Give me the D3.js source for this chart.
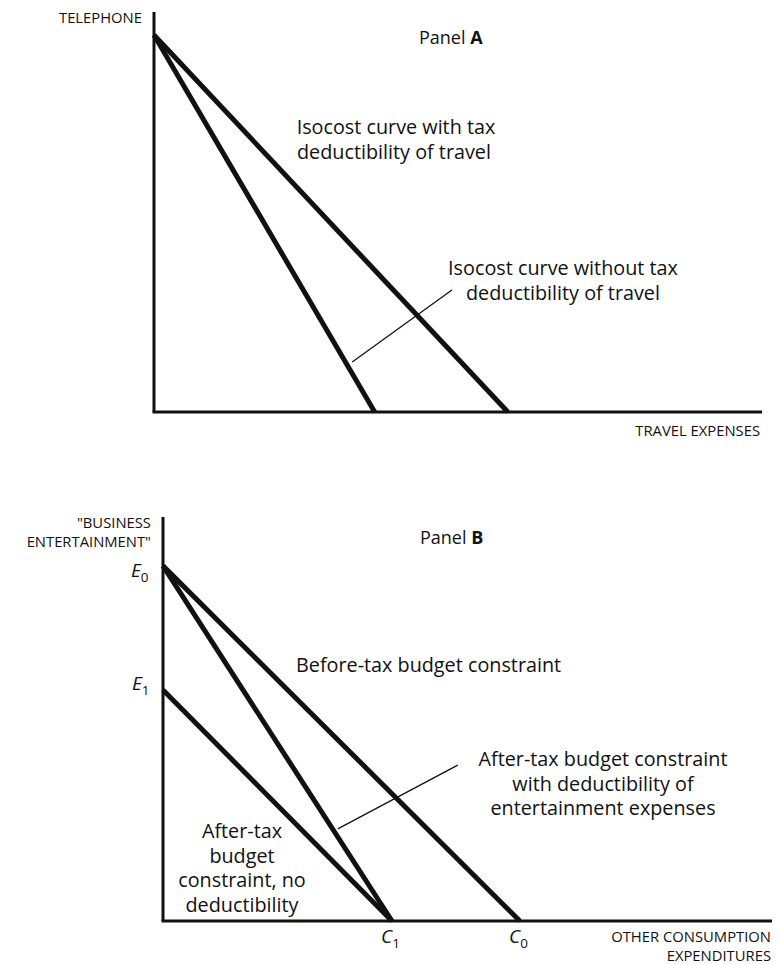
<!DOCTYPE html>
<html><head><meta charset="utf-8">
<script src="https://cdn.jsdelivr.net/npm/d3@7"></script>
<style>body{margin:0;background:#fff}svg{display:block}text{font-family:"Open Sans",Lato,sans-serif;fill:#111}</style>
</head><body>
<script>
// Panel A data (abstract units)
const panelA_telephoneIntercept = 94.25;
const panelA_travelIntercepts = [36.3, 58.2]; // without tax deductibility, with tax deductibility
// Panel B data
const panelB_entIntercepts = [87.9, 57.2];   // E0, E1
const panelB_consIntercepts = [37.6, 58.6];  // C1, C0
const panelB_lines = [
  {name:"Before-tax budget constraint", e:0, c:1},
  {name:"After-tax budget constraint with deductibility of entertainment expenses", e:0, c:0},
  {name:"After-tax budget constraint, no deductibility", e:1, c:0}
];

const W=780,H=965;
const svg=d3.select("body").append("svg").attr("width",W).attr("height",H);
const BIG=19.8, SMALL=14.8, PANEL=18, LH=24.5;

// ---------- Panel A ----------
const xA=d3.scaleLinear().domain([0,100]).range([154,762]);
const yA=d3.scaleLinear().domain([0,100]).range([412,12]);
const gA=svg.append("g");
gA.append("line").attr("x1",xA(0)).attr("x2",xA(0)).attr("y1",yA(100)).attr("y2",yA(0)).attr("stroke","#111").attr("stroke-width",3);
gA.append("line").attr("x1",xA(0)-1.5).attr("x2",xA(100)).attr("y1",yA(0)).attr("y2",yA(0)).attr("stroke","#111").attr("stroke-width",3);
panelA_travelIntercepts.forEach(t=>{
  gA.append("line").attr("x1",xA(0)).attr("y1",yA(panelA_telephoneIntercept))
    .attr("x2",xA(t)).attr("y2",yA(0)).attr("stroke","#111").attr("stroke-width",5);
});
gA.append("line").attr("x1",xA(32.6)).attr("y1",yA(12.5)).attr("x2",xA(49)).attr("y2",yA(30.5)).attr("stroke","#111").attr("stroke-width",1.3);
gA.append("text").attr("x",142).attr("y",22.5).attr("text-anchor","end").attr("font-size",SMALL).text("TELEPHONE");
const pA=gA.append("text").attr("x",419).attr("y",44).attr("font-size",PANEL);
pA.append("tspan").text("Panel ");
pA.append("tspan").attr("font-weight","bold").text("A");
const tA1=gA.append("text").attr("text-anchor","middle").attr("font-size",BIG);
tA1.append("tspan").attr("x",396).attr("y",134).text("Isocost curve with tax");
tA1.append("tspan").attr("x",394).attr("y",134+LH).text("deductibility of travel");
const tA2=gA.append("text").attr("text-anchor","middle").attr("font-size",BIG);
tA2.append("tspan").attr("x",563).attr("y",275).text("Isocost curve without tax");
tA2.append("tspan").attr("x",563).attr("y",275+LH).text("deductibility of travel");
gA.append("text").attr("x",760).attr("y",436).attr("text-anchor","end").attr("font-size",SMALL).text("TRAVEL EXPENSES");

// ---------- Panel B ----------
const xB=d3.scaleLinear().domain([0,100]).range([163,772]);
const yB=d3.scaleLinear().domain([0,100]).range([921,517]);
const gB=svg.append("g");
gB.append("line").attr("x1",xB(0)).attr("x2",xB(0)).attr("y1",yB(100)).attr("y2",yB(0)).attr("stroke","#111").attr("stroke-width",3);
gB.append("line").attr("x1",xB(0)-1.5).attr("x2",xB(100)).attr("y1",yB(0)).attr("y2",yB(0)).attr("stroke","#111").attr("stroke-width",3);
panelB_lines.forEach(l=>{
  gB.append("line").attr("x1",xB(0)).attr("y1",yB(panelB_entIntercepts[l.e]))
    .attr("x2",xB(panelB_consIntercepts[l.c])).attr("y2",yB(0)).attr("stroke","#111").attr("stroke-width",5);
});
gB.append("line").attr("x1",xB(28.7)).attr("y1",yB(22.8)).attr("x2",xB(48.4)).attr("y2",yB(38.6)).attr("stroke","#111").attr("stroke-width",1.3);
const bl=gB.append("text").attr("text-anchor","end").attr("font-size",SMALL);
bl.append("tspan").attr("x",151).attr("y",528).text("\"BUSINESS");
bl.append("tspan").attr("x",151).attr("y",547).text("ENTERTAINMENT\"");
const pB=gB.append("text").attr("x",420).attr("y",544).attr("font-size",PANEL);
pB.append("tspan").text("Panel ");
pB.append("tspan").attr("font-weight","bold").text("B");
function sub(g,x,y,main,s){
  const t=g.append("text").attr("x",x).attr("y",y).attr("font-size",19);
  t.append("tspan").attr("font-style","italic").text(main);
  t.append("tspan").attr("font-size",13.5).attr("dy",5).text(s);
  return t;
}
sub(gB,131,577,"E","0");
sub(gB,132,690,"E","1");
sub(gB,381,943,"C","1");
sub(gB,509,943,"C","0");
gB.append("text").attr("x",296).attr("y",672).attr("font-size",BIG).text(panelB_lines[0].name);
const tB2=gB.append("text").attr("text-anchor","middle").attr("font-size",BIG);
["After-tax budget constraint","with deductibility of","entertainment expenses"].forEach((s,i)=>tB2.append("tspan").attr("x",603).attr("y",766+i*LH).text(s));
const tB3=gB.append("text").attr("text-anchor","middle").attr("font-size",BIG);
["After-tax","budget","constraint, no","deductibility"].forEach((s,i)=>tB3.append("tspan").attr("x",242).attr("y",838+i*LH).text(s));
const ob=gB.append("text").attr("text-anchor","end").attr("font-size",SMALL);
ob.append("tspan").attr("x",771).attr("y",941.5).text("OTHER CONSUMPTION");
ob.append("tspan").attr("x",771).attr("y",960.5).text("EXPENDITURES");
</script>
</body></html>
